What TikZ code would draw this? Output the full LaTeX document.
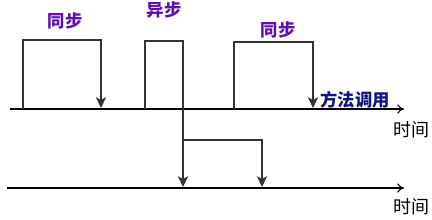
\documentclass[tikz,border=0pt]{standalone}
\usepackage{fontspec}
\newfontfamily\cjk{Noto Sans CJK SC}
\usetikzlibrary{arrows.meta}
\definecolor{modepurple}{RGB}{96, 16, 176}
\definecolor{callblue}{RGB}{20, 20, 130}

\begin{document}
\begin{tikzpicture}[
    x=0.75pt, y=-0.75pt,
    axis/.style={-{To[length=5pt, width=7pt]}, line width=0.8pt},
    frame/.style={draw=black!80, line width=1.5pt},
    call/.style={frame, -{Stealth[length=8pt, width=7.5pt, inset=2pt]}},
    mode/.style={font=\cjk\bfseries\fontsize{13}{13}\selectfont, text=modepurple},
    timelabel/.style={font=\cjk\fontsize{13.5}{13.5}\selectfont}
]
    \useasboundingbox (0,0) rectangle (432,219);

    % time axes
    \coordinate (axis1start) at (10,109);
    \coordinate (axis1end) at (404,109);
    \coordinate (axis2start) at (7,188);
    \coordinate (axis2end) at (404,188);
    \draw[axis] (axis1start) -- (axis1end);
    \draw[axis] (axis2start) -- (axis2end);
    \node[timelabel] (time1) at (411,130) {时间};
    \node[timelabel] (time2) at (411,207) {时间};

    % first synchronous call
    \coordinate (sync1start) at (23,109);
    \coordinate (sync1top) at (101,40);
    \coordinate (sync1end) at (101,108);
    \draw[call] (sync1start) |- (sync1top) -- (sync1end);
    \node[mode] (sync1) at (65,21) {同步};

    % asynchronous call
    \coordinate (asyncstart) at (145,109);
    \coordinate (asynctop) at (183,41);
    \coordinate (asyncfork) at (183,140);
    \coordinate (asyncend) at (183,187);
    \coordinate (asyncreturn) at (262,187);
    \draw[frame] (asyncstart) |- (asynctop) -- (asyncfork);
    \draw[call] (asyncfork) -- (asyncend);
    \draw[call] (asyncfork) -| (asyncreturn);
    \node[mode] (async) at (164,10) {异步};

    % second synchronous call
    \coordinate (sync2start) at (234,109);
    \coordinate (sync2top) at (313,42);
    \coordinate (sync2end) at (313,108);
    \draw[call] (sync2start) |- (sync2top) -- (sync2end);
    \node[mode] (sync2) at (278,30) {同步};
    \node[mode, text=callblue] (method) at (355,100) {方法调用};
\end{tikzpicture}
\end{document}
